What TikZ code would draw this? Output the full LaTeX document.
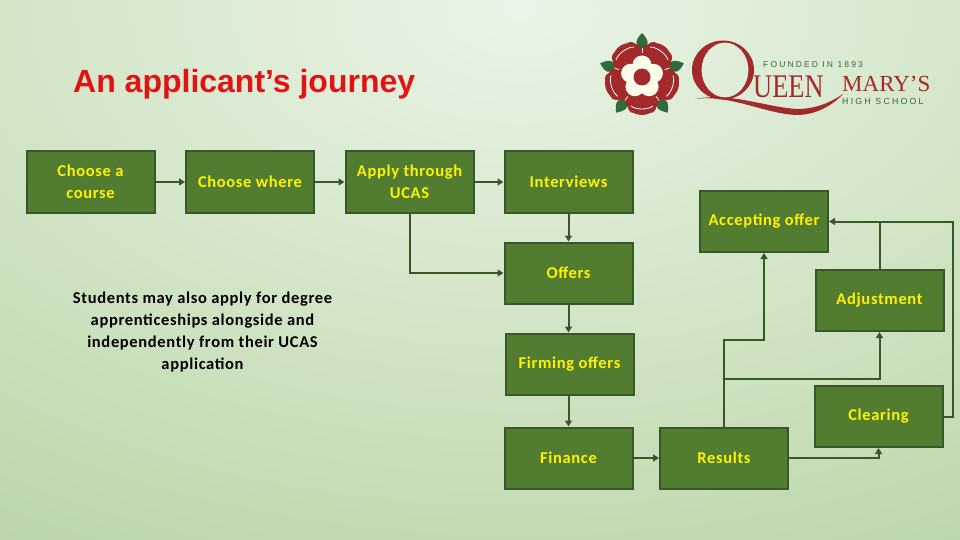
\documentclass[tikz,border=0pt]{standalone}
\usepackage{fontspec}
\setmainfont[LetterSpace=4]{Carlito}
\newfontfamily\titlefont{Liberation Sans}
\newfontfamily\crestserif[FakeStretch=0.8]{Liberation Serif}
\newfontfamily\crestname{Liberation Serif}
\newfontfamily\crestsans[LetterSpace=25]{Liberation Sans}
\usetikzlibrary{arrows.meta}

\definecolor{boxfill}{HTML}{527D30}
\definecolor{boxline}{HTML}{38572A}
\definecolor{roseRed}{HTML}{A32A2C}
\definecolor{leafGreen}{HTML}{2F6B3C}
\definecolor{bgLight}{HTML}{EAF4E6}
\definecolor{bgDark}{HTML}{B5D2A1}

\tikzset{
  stagebox/.style={draw=boxline, line width=2pt, fill=boxfill, text=yellow, font=\bfseries\fontsize{16.5}{22}\selectfont,
    align=center, minimum width=128pt, minimum height=61pt, inner sep=0pt},
  flow/.style={draw=boxline, line width=2pt, -{Triangle[length=6pt,width=7pt]}},
  plainflow/.style={draw=boxline, line width=2pt},
  crestleaf/.style={fill=leafGreen}
}

\begin{document}
\begin{tikzpicture}[x=1pt, y=-1pt]
    \useasboundingbox (0,0) rectangle (960,540);

    % Background
    \begin{scope}
      \clip (0,0) rectangle (960,540);
      \shade[inner color=bgLight, outer color=bgDark] (520,10) ellipse (1150 and 700);
    \end{scope}

    % Title
    \node[text={rgb,255:red,224;green,20;blue,20}, font=\titlefont\bfseries\fontsize{32}{34}\selectfont, anchor=west, inner sep=0pt] (title) at (73,84) {An applicant’s journey};

    % Rose of the crest
    \begin{scope}[shift={(642,77)}]
      \foreach \a in {270,342,54,126,198} {
        \begin{scope}[rotate=-\a]
          \fill[crestleaf] (27,0) .. controls (31,-8) and (37,-7) .. (44,0) .. controls (37,7) and (31,8) .. (27,0);
        \end{scope}
      }
      \foreach \a in {306,18,90,162,234} {
        \fill[roseRed] (\a:21) circle (17);
        \fill[roseRed] (\a:30) ++(\a+90:8) circle (6) (\a:30) ++(\a-90:8) circle (6);
      }
      \foreach \a in {306,18,90,162,234} {
        \begin{scope}[rotate=-\a]
          \draw[white!92!yellow, line width=0.8pt] (29,-11) .. controls (33,-6) and (33,6) .. (29,11);
        \end{scope}
        \draw[white!92!yellow, line width=0.8pt] (\a+36:24) -- (\a+36:29);
      }
      \foreach \a in {270,342,54,126,198} {
        \fill[white!92!yellow] (\a:12) circle (9.5);
      }
      \fill[roseRed] (0,0) circle (8.5);
    \end{scope}

    % Lettering of the crest
    \fill[roseRed, even odd rule] (723,70) ellipse (31 and 29.5) (725,70) ellipse (23.5 and 27.5);
    \fill[roseRed] (695,99) .. controls (730,94) and (765,114) .. (797,115) .. controls (815,115) and (832,106) .. (843,94) .. controls (830,103) and (815,109) .. (797,109) .. controls (765,107) and (730,92) .. (695,99);
    \node[text=roseRed, font=\crestserif\fontsize{33}{34}\selectfont, anchor=base west, inner sep=0pt] (queen) at (753,98) {UEEN};
    \node[text=roseRed, font=\crestname\fontsize{23}{24}\selectfont, anchor=base west, inner sep=0pt, text depth=0pt] (mary) at (842,92) {MARY’S};
    \node[text=leafGreen, font=\crestsans\fontsize{8.5}{10}\selectfont, anchor=base west, inner sep=0pt] (founded) at (763,68) {FOUNDED IN 1893};
    \node[text=leafGreen, font=\crestsans\fontsize{8.8}{10}\selectfont, anchor=base west, inner sep=0pt] (school) at (842,105) {HIGH SCHOOL};

    % Stages
    \node[stagebox] (course) at (90.5,182) {Choose a\\course};
    \node[stagebox] (where) at (250,182) {Choose where};
    \node[stagebox] (ucas) at (409.5,182) {Apply through\\UCAS};
    \node[stagebox] (interviews) at (568.5,182) {Interviews};
    \node[stagebox] (offers) at (568.5,273) {Offers};
    \node[stagebox] (firming) at (569.5,364) {Firming offers};
    \node[stagebox] (finance) at (568.5,458) {Finance};
    \node[stagebox] (results) at (724,458) {Results};
    \node[stagebox] (clearing) at (878.5,416.5) {Clearing};
    \node[stagebox] (adjustment) at (879.5,300.5) {Adjustment};
    \node[stagebox] (accepting) at (764,221.5) {Accepting offer};

    % Note
    \node[font=\bfseries\fontsize{16.5}{22}\selectfont, align=center, inner sep=0pt] (note) at (202.5,332) {Students may also apply for degree\\apprenticeships alongside and\\independently from their UCAS\\application};

    % Connectors
    \coordinate (rightrail) at (953,221.5);
    \coordinate (split) at (724,379);
    \draw[flow] (course) -- (where);
    \draw[flow] (where) -- (ucas);
    \draw[flow] (ucas) -- (interviews);
    \draw[flow] (ucas.south) |- (offers.west);
    \draw[flow] (interviews) -- (offers);
    \draw[flow] (offers) -- (firming.north -| offers);
    \draw[flow] (firming.south -| finance) -- (finance);
    \draw[flow] (finance) -- (results);
    \draw[flow] (results.east) -| (clearing.south);
    \draw[flow] (results.north) -- (724,340) -| (accepting.south);
    \draw[flow] (split) -| (adjustment.south);
    \draw[flow] (clearing.east) -| (rightrail) -- (accepting.east);
    \draw[plainflow] (adjustment.north) -- (adjustment.north |- rightrail);
\end{tikzpicture}
\end{document}
